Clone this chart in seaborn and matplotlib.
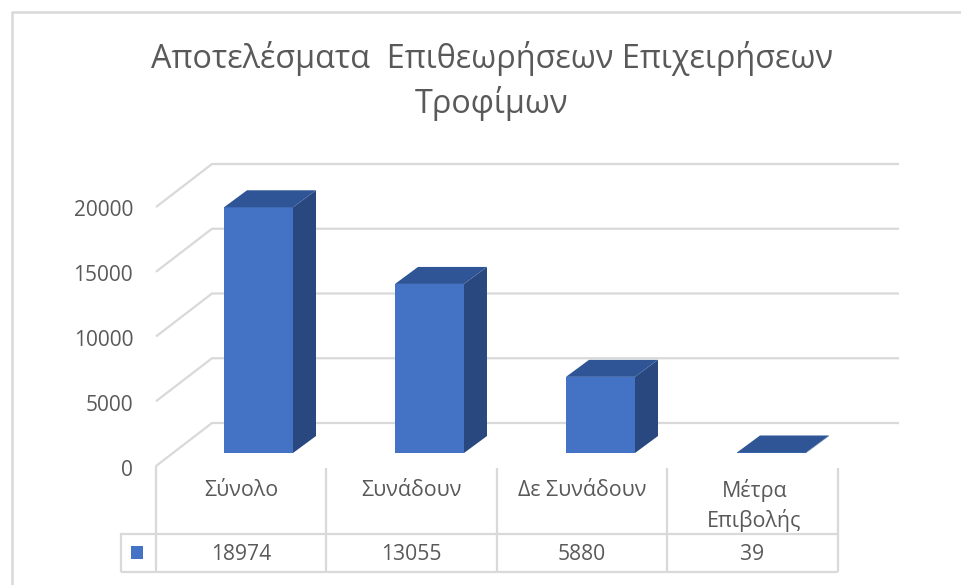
import matplotlib
matplotlib.use("Agg")
import matplotlib.pyplot as plt
from matplotlib.patches import Polygon
from matplotlib.lines import Line2D
from matplotlib.transforms import ScaledTranslation
import seaborn as sns
import pandas as pd

categories = ["Σύνολο", "Συνάδουν", "Δε Συνάδουν", "Μέτρα\nΕπιβολής"]
values = [18974, 13055, 5880, 39]
ticks = [0, 5000, 10000, 15000, 20000]
title = "Αποτελέσματα  Επιθεωρήσεων Επιχειρήσεων\nΤροφίμων"

W, H = 962, 585
TXT = "#595959"
GRID = "#d9d9d9"
FRONT = "#4472c4"
SIDE = "#29487f"
TOP = "#2f5597"

sns.set_theme(style="white")
plt.rcParams["font.family"] = ["Open Sans", "DejaVu Sans"]

fig = plt.figure(figsize=(W / 100, H / 100), dpi=100, facecolor="white")

def rect(x0, y0, x1, y1):
    return [x0 / W, 1 - y1 / H, (x1 - x0) / W, (y1 - y0) / H]

# Axes for the value ticks: the front plane of the 3D box
PX = 259 / 20000
axt = fig.add_axes(rect(156, 207, 838, 466))
axt.set_ylim(0, 20000)
axt.set_xlim(0, 1)
axt.set_xticks([])
axt.set_yticks(ticks)
axt.set_yticklabels([str(t) for t in ticks], fontsize=15, color=TXT)
axt.tick_params(axis="y", length=0, pad=16.5)
shift = ScaledTranslation(0, -1.5 / 100, fig.dpi_scale_trans)
for lab in axt.get_yticklabels():
    lab.set_transform(lab.get_transform() + shift)
axt.patch.set_alpha(0)
for s in axt.spines.values():
    s.set_visible(False)

# Full-figure overlay in pixels for frame, walls and table
axp = fig.add_axes([0, 0, 1, 1], zorder=0)
axp.set_xlim(0, W)
axp.set_ylim(H, 0)
axp.axis("off")

def line(xs, ys, lw=1.6):
    axp.add_line(Line2D(xs, ys, color=GRID, lw=lw, solid_capstyle="butt"))

line([12, 12, W], [H, 12, 12], lw=1.8)
for t in ticks:
    off = t * PX
    line([156, 212, 899], [466 - off, 423 - off, 423 - off])
cell_x = [156 + 170.5 * i for i in range(5)]
line([cell_x[0], cell_x[0]], [466, 572])
for x in cell_x[1:]:
    line([x, x], [468, 572])
line([121, cell_x[-1]], [533.5, 533.5])
line([121, cell_x[-1]], [571.5, 571.5])
line([121, 121], [533, 572])
axp.add_patch(plt.Rectangle((131, 546), 12.5, 12.5, color=FRONT, lw=0))

# Bars: category positions and values on a figure-wide axes
BASE = 453
X0 = 258.5
STEP = 171
axb = fig.add_axes([0, 0, 1, 1], zorder=2)
axb.patch.set_alpha(0)
df = pd.DataFrame({"cat": categories, "val": values})
sns.barplot(data=df, x="cat", y="val", ax=axb, color=FRONT, saturation=1,
            width=69 / STEP, legend=False, zorder=3, linewidth=0, edgecolor="none")
axb.set_xlim(-X0 / STEP, (W - X0) / STEP)
axb.set_ylim(-(H - BASE) / PX, BASE / PX)
axb.axis("off")
hw = 34.5 / STEP
dx = 23 / STEP
dy = 17 / PX
for i, v in enumerate(values):
    l, r = i - hw, i + hw
    axb.add_patch(Polygon([(r, 0), (r + dx, dy), (r + dx, v + dy), (r, v)],
                          color=SIDE, lw=0, zorder=3))
    axb.add_patch(Polygon([(l, v), (r, v), (r + dx, v + dy), (l + dx, v + dy)],
                          color=TOP, lw=0, zorder=3))

# Table text
for i, (c, v) in enumerate(zip(categories, values)):
    cx = cell_x[i] + 85
    if "\n" in c:
        a, b = c.split("\n")
        axp.text(cx + 2, 491, a, ha="center", va="center", fontsize=15.4, color=TXT)
        axp.text(cx + 2, 520, b, ha="center", va="center", fontsize=15.4, color=TXT)
    else:
        axp.text(cx, 491, c, ha="center", va="center", fontsize=15.4, color=TXT)
    axp.text(cx, 554, str(v), ha="center", va="center", fontsize=15.2, color=TXT)

fig.text(492 / W, 1 - 81 / H, title, ha="center", va="center", fontsize=23.3,
         color=TXT, linespacing=1.38)

fig.savefig("out.png", dpi=100, facecolor="white")
